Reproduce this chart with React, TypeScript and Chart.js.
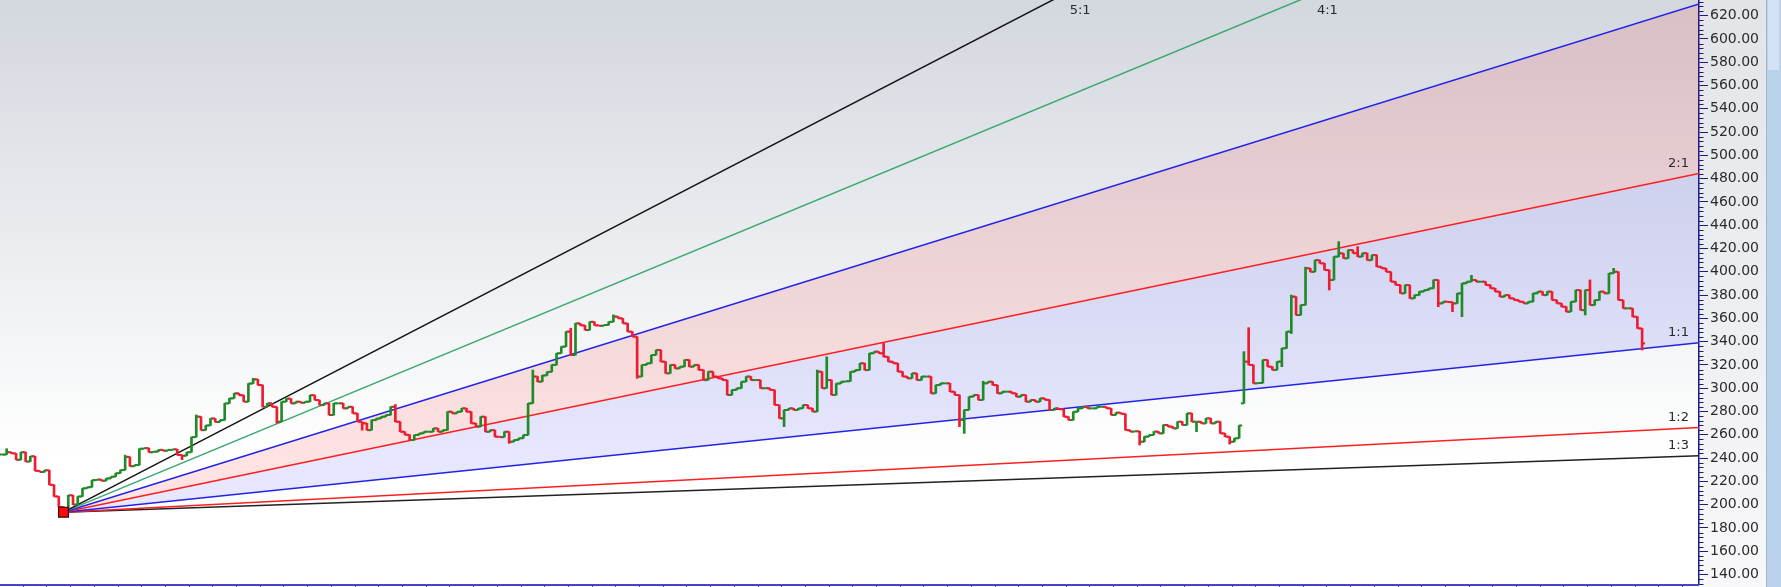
import React, { useEffect, useRef } from 'react';
import { Chart, registerables } from 'chart.js';

Chart.register(...registerables);

// Daily closing prices
const closes: number[] = [
  243, 245, 244, 238.5, 245, 237, 241.5, 229, 228, 229.5,
  217, 207, 198, 196, 208, 200, 207, 214, 215, 221,
  221.5, 220.5, 222.5, 224, 227, 229.7, 241, 233, 234, 248,
  248.5, 245, 245.5, 247, 246.3, 247, 247.5, 242.6, 242, 245,
  258, 275.5, 264, 268, 274, 271, 272.6, 287, 291.3, 295.6,
  294, 288.4, 304, 307.6, 302.7, 284, 287, 284, 271.2, 288.4,
  291, 287, 288.4, 287.5, 288.4, 294, 289.8, 285.5, 287, 277,
  287, 287, 282.7, 284, 278.4, 271.2, 269.8, 264, 272.6, 274,
  275.5, 277, 284, 271.2, 262.6, 260, 255.5, 259.8, 261.2, 262.6,
  262.6, 265.5, 262.6, 264, 279.8, 278.4, 279.8, 282.7, 279.8, 269.8,
  267, 275.5, 262.6, 264, 258.3, 258, 262.6, 254, 255.5, 257,
  259.8, 287, 310, 305.6, 311, 314, 320, 330, 335.7, 348.6,
  328.5, 355.7, 354, 350, 357, 354, 353.6, 354.3, 357, 361.5,
  360, 355.7, 348.6, 344.3, 310, 320, 321.4, 328.5, 332.8, 322.8,
  312.8, 320, 317, 318.5, 324.3, 318.5, 320, 315.7, 307, 314.2,
  310, 308.5, 307, 294.2, 298.5, 300, 305.6, 310, 307, 307,
  300, 300, 298.5, 285.6, 274.1, 281.3, 282.7, 281.3, 282.7, 285.6,
  282.7, 279.9, 314.2, 300, 307, 294.2, 304, 305.6, 306, 314.2,
  315.6, 321.4, 315.6, 330, 331.4, 330, 327, 322.8, 321.4, 314.2,
  310, 308.5, 312.8, 307, 310, 310, 295.6, 302.7, 304.2, 304.2,
  297, 294.2, 272.7, 281.3, 292.7, 294.2, 289.9, 304.2, 305.6, 302.7,
  295.6, 297, 297, 295.6, 292.7, 294.2, 288.4, 289.9, 288.4, 291.3,
  290, 281.3, 282.7, 282, 275.5, 272.7, 279.8, 282.7, 284, 282.7,
  282.7, 284, 284, 282.7, 277, 279, 278, 264, 262.7, 263,
  254, 258.4, 259.8, 262.7, 261.2, 268.4, 267, 265.5, 271.2, 268.4,
  278.4, 271.2, 271.2, 269.8, 274.1, 269.8, 271.2, 261.2, 258.4, 254,
  257, 268, 322.8, 320, 304.2, 304.5, 324.3, 318.5, 315.7, 322.8,
  334.3, 348.6, 378.6, 362.9, 371.5, 403, 400, 410, 407.3, 401.5,
  393, 413, 415.9, 411.6, 418.7, 416, 413, 416, 410, 414.4,
  404.4, 403, 400, 391.5, 388.7, 381.5, 388.6, 377.2, 380, 383,
  384.3, 385.8, 393, 372.9, 374.3, 374, 372.9, 381.5, 390.1, 391.5,
  393, 391.5, 391.5, 388.6, 385.8, 383, 378.6, 380, 377.2, 375.7,
  374.3, 372.9, 374.3, 381.5, 383, 380, 383, 375.7, 372.9, 370,
  365.7, 374.3, 384.3, 367.1, 384.3, 371.4, 375.7, 383, 381.5, 398.7,
  400, 375.7, 368.6, 368.6, 361.4, 351.4, 338.5,
];

const firstOpen = 243;
// [bar index, opening price] where the bar opened away from the previous close
const gapOpens: [number, number][] = [[262, 287]];
// [bar index, price] for visible wicks
const wickHighs: [number, number][] = [
  [1, 248], [26, 242.5], [41, 277], [53, 308.5], [83, 286], [112, 315.6], [120, 351.5],
  [129, 363], [172, 315.6], [174, 327], [186, 338.5], [207, 306], [262, 331.4], [263, 352],
  [272, 380], [275, 404], [282, 425.9], [286, 421.6], [310, 397], [335, 393], [340, 403],
];
const wickLows: [number, number][] = [
  [13, 193], [38, 238.6], [58, 270], [76, 264], [107, 252.6], [134, 308.5], [165, 267],
  [202, 267], [203, 261.2], [240, 251.2], [252, 262.7], [259, 252], [262, 287], [270, 318.5],
  [272, 347], [280, 384.4], [303, 370], [306, 365.7], [308, 361.4], [334, 362.9], [346, 332.8],
];

const yTickValues = [140, 160, 180, 200, 220, 240, 260, 280, 300, 320, 340, 360, 380, 400, 420, 440, 460, 480, 500, 520, 540, 560, 580, 600, 620];
const yMin = 131.8;
const yMax = 633.5;
const xMin = -0.4;
const xMax = 358;

const pivotIndex = 13;
const pivotPrice = 193.5;
const fanEndIndex = 358;
const oneToOneRise = 145.5;

const fanLabels = ['5:1', '4:1', '3:1', '2:1', '1:1', '1:2', '1:3'];
const fanRatios = [5, 4, 3, 2, 1, 1 / 2, 1 / 3];
const fanColors = ['#141414', '#3aa86e', '#2323e6', '#ff1f1f', '#2323e6', '#ff1f1f', '#222222'];
const fanFills = ['', '', 'rgba(255,0,0,0.11)', 'rgba(40,40,255,0.11)', '', '', ''];

const upColor = '#1f8a27';
const downColor = '#ee1c30';

export default function App() {
  const ref = useRef<HTMLCanvasElement>(null);

  useEffect(() => {
    document.body.style.margin = '0';
    const canvas = ref.current;
    if (!canvas) return;

    const opens = closes.map((c, i) => {
      const g = gapOpens.find((p) => p[0] === i);
      if (g) return g[1];
      return i === 0 ? firstOpen : closes[i - 1];
    });
    const highs = closes.map((c, i) => {
      const w = wickHighs.find((p) => p[0] === i);
      return w ? w[1] : Math.max(c, opens[i]);
    });
    const lows = closes.map((c, i) => {
      const w = wickLows.find((p) => p[0] === i);
      return w ? w[1] : Math.min(c, opens[i]);
    });
    const barColors = closes.map((c, i) => (c >= opens[i] ? upColor : downColor));

    const fanDatasets: any[] = fanRatios.map((k, j) => ({
      type: 'line',
      label: fanLabels[j],
      data: [
        { x: pivotIndex, y: pivotPrice },
        { x: fanEndIndex, y: pivotPrice + k * oneToOneRise },
      ],
      borderColor: fanColors[j],
      borderWidth: 1.5,
      pointRadius: 0,
      tension: 0,
      fill: fanFills[j] ? '+1' : false,
      backgroundColor: fanFills[j] || 'transparent',
      order: 3,
    }));

    const tickOffset = 0.32;

    const bgPlugin = {
      id: 'bgPlugin',
      beforeDraw(chart: any) {
        const { ctx, chartArea } = chart;
        const W = chart.width;
        const H = chart.height;
        ctx.save();
        const ag = ctx.createLinearGradient(0, 0, 0, H);
        ag.addColorStop(0, '#e2e4e8');
        ag.addColorStop(1, '#f8f8fa');
        ctx.fillStyle = ag;
        ctx.fillRect(0, 0, W, H);
        const pg = ctx.createLinearGradient(0, chartArea.top, 0, chartArea.bottom);
        pg.addColorStop(0, '#d3d7de');
        pg.addColorStop(0.45, '#eceef1');
        pg.addColorStop(0.78, '#ffffff');
        pg.addColorStop(1, '#ffffff');
        ctx.fillStyle = pg;
        ctx.fillRect(chartArea.left, chartArea.top, chartArea.right - chartArea.left, chartArea.bottom - chartArea.top);
        ctx.fillStyle = '#bad1ea';
        ctx.fillRect(W - 15, 0, 15, H);
        ctx.fillStyle = '#d4e3f3';
        ctx.fillRect(W - 13, 0, 11, 70);
        ctx.fillStyle = '#9db7d6';
        ctx.fillRect(W - 15, 0, 1, H);
        ctx.restore();
      },
      afterDraw(chart: any) {
        const { ctx, chartArea } = chart;
        const xs = chart.scales.x;
        const ys = chart.scales.y;
        ctx.save();
        ctx.strokeStyle = '#1c1c78';
        ctx.lineWidth = 1;
        for (let v = 132; v <= 632; v += 4) {
          if (v % 20 === 0) continue;
          const py = Math.round(ys.getPixelForValue(v)) + 0.5;
          ctx.beginPath();
          ctx.moveTo(chartArea.right, py);
          ctx.lineTo(chartArea.right + 4.5, py);
          ctx.stroke();
        }
        ctx.strokeStyle = '#4646c4';
        ctx.lineWidth = 2;
        ctx.beginPath();
        ctx.moveTo(chartArea.left, chartArea.bottom + 1);
        ctx.lineTo(chartArea.right, chartArea.bottom + 1);
        ctx.stroke();
        ctx.lineWidth = 1;
        ctx.strokeStyle = '#3a3a9a';
        for (let v = 4.4; v < xMax; v += 5) {
          const px = Math.round(xs.getPixelForValue(v)) + 0.5;
          ctx.beginPath();
          ctx.moveTo(px, chartArea.bottom + 2);
          ctx.lineTo(px, chartArea.bottom + 6);
          ctx.stroke();
        }
        ctx.fillStyle = '#2a2a2a';
        ctx.font = '13px "DejaVu Sans", sans-serif';
        ctx.textBaseline = 'middle';
        const slope = oneToOneRise / (fanEndIndex - pivotIndex);
        fanRatios.forEach((k, j) => {
          const endVal = pivotPrice + k * oneToOneRise;
          if (endVal > yMax) {
            const xv = pivotIndex + (yMax - pivotPrice) / (k * slope);
            ctx.textAlign = 'left';
            ctx.fillText(fanLabels[j], xs.getPixelForValue(xv) + 17, 11);
          } else if (k !== 3) {
            ctx.textAlign = 'right';
            ctx.fillText(fanLabels[j], chartArea.right - 10, ys.getPixelForValue(endVal) - 10);
          }
        });
        ctx.restore();
      },
    };

    const chart = new Chart(canvas, {
      type: 'bar',
      data: {
        datasets: [
          ...fanDatasets,
          {
            type: 'bar',
            label: 'range',
            data: closes.map((c, i) => ({ x: i, y: [lows[i], highs[i]] })),
            backgroundColor: barColors,
            borderWidth: 0,
            barThickness: 2,
            order: 2,
          },
          {
            type: 'line',
            label: 'open',
            data: opens.map((o, i) => ({ x: i - tickOffset, y: o })),
            showLine: false,
            pointStyle: 'line',
            pointRadius: 1.5,
            pointBorderWidth: 2,
            pointBorderColor: barColors,
            pointBackgroundColor: barColors,
            order: 1,
          },
          {
            type: 'line',
            label: 'close',
            data: closes.map((c, i) => ({ x: i + tickOffset, y: c })),
            showLine: false,
            pointStyle: 'line',
            pointRadius: 1.5,
            pointBorderWidth: 2,
            pointBorderColor: barColors,
            pointBackgroundColor: barColors,
            order: 1,
          },
          {
            type: 'line',
            label: 'pivot',
            data: [{ x: pivotIndex, y: pivotPrice }],
            showLine: false,
            pointStyle: 'rect',
            pointRadius: 7,
            pointBorderWidth: 1.2,
            pointBackgroundColor: '#ff0a0a',
            pointBorderColor: '#3a0000',
            order: 0,
          },
        ] as any,
      },
      options: {
        animation: false,
        responsive: false,
        devicePixelRatio: 1,
        events: [],
        layout: { autoPadding: false, padding: { top: 0, right: 15, bottom: 3, left: 0 } },
        plugins: {
          legend: { display: false },
          tooltip: { enabled: false },
          filler: { propagate: false },
        },
        scales: {
          x: {
            type: 'linear',
            min: xMin,
            max: xMax,
            offset: false,
            display: false,
            grid: { display: false },
          },
          y: {
            type: 'linear',
            position: 'right',
            min: yMin,
            max: yMax,
            afterBuildTicks: (scale: any) => {
              scale.ticks = yTickValues.map((v) => ({ value: v }));
            },
            afterFit: (scale: any) => {
              scale.width = 67;
              scale.paddingTop = 0;
              scale.paddingBottom = 0;
            },
            grid: {
              drawOnChartArea: false,
              drawTicks: true,
              tickLength: 9,
              tickColor: '#1c1c78',
              tickWidth: 1,
            },
            border: { color: '#1c1c7c', width: 1.5 },
            ticks: {
              color: '#2b2b2b',
              padding: 2,
              font: { family: '"DejaVu Sans", sans-serif', size: 14 },
              callback: (v: any) => Number(v).toFixed(2),
            },
          },
        },
      } as any,
      plugins: [bgPlugin],
    });

    return () => chart.destroy();
  }, []);

  return (
    <div style={{ position: 'fixed', left: 0, top: 0, width: 1781, height: 587, overflow: 'hidden' }}>
      <canvas ref={ref} width={1781} height={587} style={{ display: 'block' }} />
    </div>
  );
}
